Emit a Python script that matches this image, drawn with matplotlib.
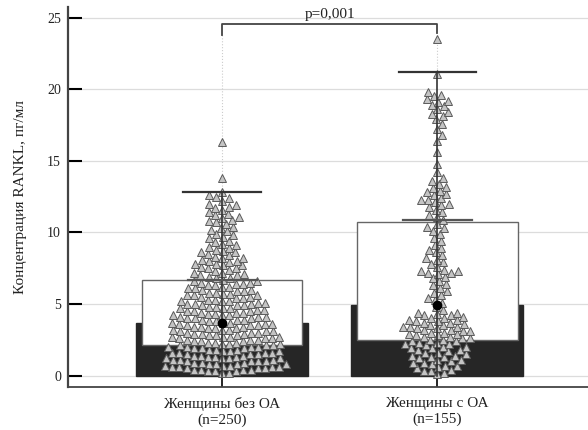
import matplotlib
matplotlib.use('Agg')
import matplotlib.pyplot as plt
import numpy as np

plt.rcParams['font.family'] = ['Liberation Serif', 'DejaVu Serif']

# --- data ---
groups = ['Женщины без ОА\n(n=250)', 'Женщины с ОА\n(n=155)']
bar_height = [3.7, 4.9]          # dark bar / black dot
box_low = [2.1, 2.5]
box_high = [6.65, 10.75]
whisker_top = [12.8, 21.2]
sd_cap = [6.7, 10.85]
p_text = 'p=0,001'

women_no_oa = [
    0.2, 0.2, 0.3, 0.3, 0.3, 0.4, 0.4, 0.4, 0.4,
    0.5, 0.5, 0.5, 0.6, 0.6, 0.6, 0.6, 0.7, 0.7, 0.7, 0.8, 0.8, 0.8, 0.8, 0.9, 0.9, 0.9,
    1.0, 1.0, 1.0, 1.0, 1.1, 1.1, 1.1, 1.2, 1.2, 1.2, 1.2, 1.3, 1.3, 1.3, 1.4, 1.4, 1.4,
    1.5, 1.5, 1.5, 1.6, 1.6, 1.6, 1.6, 1.7, 1.7, 1.7, 1.8, 1.8, 1.8, 1.9, 1.9, 1.9,
    2.0, 2.0, 2.0, 2.0, 2.1, 2.1, 2.1, 2.2, 2.2, 2.2, 2.3, 2.3, 2.3, 2.4, 2.4, 2.4,
    2.5, 2.5, 2.5, 2.6, 2.6, 2.6, 2.7, 2.7, 2.7, 2.7, 2.8, 2.8, 2.8, 2.9, 2.9, 2.9,
    3.0, 3.0, 3.0, 3.1, 3.1, 3.1, 3.2, 3.2, 3.2, 3.3, 3.3, 3.3, 3.4, 3.4, 3.4,
    3.5, 3.5, 3.5, 3.6, 3.6, 3.6, 3.7, 3.7, 3.7, 3.8, 3.8, 3.9, 3.9, 3.9,
    4.0, 4.0, 4.0, 4.1, 4.1, 4.1, 4.2, 4.2, 4.2, 4.3, 4.3, 4.4, 4.4, 4.4,
    4.5, 4.5, 4.5, 4.6, 4.6, 4.7, 4.7, 4.7, 4.8, 4.8, 4.9, 4.9, 4.9,
    5.0, 5.0, 5.0, 5.1, 5.1, 5.2, 5.2, 5.2, 5.3, 5.3, 5.4, 5.4,
    5.5, 5.5, 5.6, 5.6, 5.6, 5.7, 5.7, 5.8, 5.8, 5.9, 5.9,
    6.0, 6.0, 6.1, 6.1, 6.2, 6.2, 6.3, 6.3, 6.4, 6.4,
    6.5, 6.5, 6.6, 6.6, 6.7, 6.8, 6.8, 6.9,
    7.0, 7.0, 7.1, 7.2, 7.2, 7.3, 7.4,
    7.5, 7.5, 7.6, 7.7, 7.7, 7.8, 7.8, 7.9,
    8.0, 8.0, 8.1, 8.2, 8.2, 8.3, 8.4,
    8.5, 8.6, 8.6, 8.7, 8.8, 8.9,
    9.0, 9.1, 9.2, 9.3, 9.4,
    9.6, 9.7, 9.8, 9.9,
    10.1, 10.2, 10.3, 10.4,
    10.6, 10.7, 10.8, 10.9,
    11.0, 11.1, 11.2, 11.3, 11.4,
    11.6, 11.7, 11.8, 11.9,
    12.0, 12.2, 12.4,
    12.5, 12.6, 12.8,
    13.8, 16.3,
]

women_oa = [
    0.1, 0.2, 0.3, 0.3, 0.4,
    0.5, 0.6, 0.7, 0.7, 0.8, 0.9, 0.9,
    1.0, 1.1, 1.1, 1.2, 1.3, 1.3, 1.4, 1.4,
    1.5, 1.6, 1.6, 1.7, 1.8, 1.8, 1.9, 1.9,
    2.0, 2.0, 2.1, 2.2, 2.2, 2.3, 2.3, 2.4, 2.4,
    2.5, 2.5, 2.6, 2.6, 2.7, 2.7, 2.8, 2.8, 2.9, 2.9,
    3.0, 3.0, 3.1, 3.1, 3.2, 3.2, 3.3, 3.3, 3.4, 3.4, 3.4,
    3.5, 3.5, 3.6, 3.7, 3.7, 3.8, 3.8, 3.9, 3.9,
    4.0, 4.0, 4.1, 4.2, 4.2, 4.3, 4.4, 4.4,
    4.6, 4.8, 5.1, 5.3, 5.4, 5.6, 5.8, 5.9, 6.1, 6.3, 6.4, 6.6, 6.8, 6.9,
    7.1, 7.2, 7.2, 7.3, 7.3, 7.4, 7.6, 7.8, 7.9,
    8.1, 8.2, 8.4, 8.6, 8.8, 8.9, 9.1, 9.4, 9.6, 9.9,
    10.1, 10.3, 10.4, 10.6, 10.9, 11.1, 11.2, 11.4, 11.6, 11.8, 11.9,
    12.0, 12.1, 12.3, 12.3, 12.4, 12.6, 12.7, 12.8, 12.9,
    13.1, 13.2, 13.4, 13.6, 13.8, 14.2, 14.8, 15.6,
    16.4, 16.8, 17.2, 17.6, 17.9, 18.1, 18.3, 18.4, 18.6, 18.8, 18.9,
    19.1, 19.2, 19.3, 19.5, 19.6, 19.8, 21.1, 23.5,
]


def swarm_offsets(values, xscale, yscale, d=7.0):
    # simple beeswarm in pixel units
    values = np.asarray(values)
    out = np.zeros(len(values))
    placed = []
    for i in np.argsort(values, kind='stable'):
        y = values[i] * yscale
        near = [(px, py) for px, py in placed if abs(py - y) < d]
        cands = [0.0]
        for px, py in near:
            dx = np.sqrt(d * d - (py - y) ** 2)
            cands += [px + dx, px - dx]
        cands.sort(key=abs)
        for c in cands:
            if all((c - px) ** 2 + (y - py) ** 2 >= d * d - 1e-6 for px, py in near):
                break
        placed.append((c, y))
        out[i] = c / xscale
    return out


fig = plt.figure(figsize=(5.88, 4.30), dpi=100)
ax = fig.add_axes([0.1156, 0.1, 0.8844, 0.8837])
ax.set_xlim(-0.716, 1.70)
ax.set_ylim(-0.8, 25.75)

xs = [0, 1]
ax.set_yticks([0, 5, 10, 15, 20, 25])
ax.yaxis.grid(True, color='#dcdcdc', lw=0.9)
ax.set_axisbelow(True)

ax.bar(xs, bar_height, width=0.80, color='#262626', edgecolor='#262626', zorder=2)
for x, lo, hi in zip(xs, box_low, box_high):
    ax.add_patch(plt.Rectangle((x - 0.373, lo), 0.746, hi - lo, facecolor='white',
                               edgecolor='#666666', lw=1.0, zorder=3))

# whiskers
for x, top, sd in zip(xs, whisker_top, sd_cap):
    ax.plot([x, x], [0, top], color='#333333', lw=1.2, zorder=5)
    ax.plot([x - 0.18, x + 0.18], [top, top], color='#333333', lw=1.6, zorder=6)
    ax.plot([x - 0.16, x + 0.16], [sd, sd], color='#555555', lw=1.6, zorder=6)
    ax.plot([x, x], [top, 23.8], color='#cccccc', lw=0.8, ls=':', zorder=1)

# points
for x, vals in zip(xs, [women_no_oa, women_oa]):
    off = swarm_offsets(vals, 215.2, 14.31, d=7.2)
    ax.plot(x + off, vals, ls='none', marker='^', ms=6.2, mfc='#c4c4c4',
            mec='#5a5a5a', mew=0.7, zorder=4)

ax.plot(xs, bar_height, ls='none', marker='o', ms=6, color='black', zorder=7)

# significance bracket
ax.plot([0, 0, 1, 1], [23.8, 24.55, 24.55, 23.9], color='#444444', lw=1.3, zorder=6)
ax.text(0.5, 24.75, p_text, ha='center', va='bottom', fontsize=11, color='#222222')

ax.set_xticks(xs)
ax.set_xticklabels(groups, fontsize=11, color='#222222', linespacing=1.3)
ax.tick_params(axis='x', direction='in', length=7, width=1.2, pad=7)
ax.tick_params(axis='y', direction='in', length=10, width=1.5, pad=5,
               labelsize=10, labelcolor='#222222')
ax.set_ylabel('Концентрация RANKL, пг/мл', fontsize=11, color='#222222')
ax.yaxis.set_label_coords(-0.079, 0.5)

for s in ['top', 'right']:
    ax.spines[s].set_visible(False)
ax.spines['left'].set_linewidth(1.6)
ax.spines['bottom'].set_linewidth(1.3)
ax.spines['left'].set_color('#444444')
ax.spines['bottom'].set_color('#444444')

fig.savefig('out.png', dpi=100)
